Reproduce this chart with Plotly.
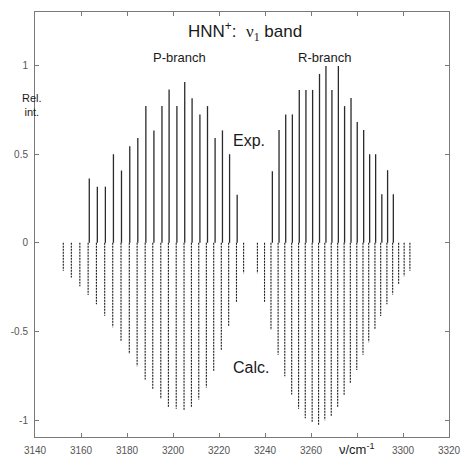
import plotly.graph_objects as go

# ---- data (wavenumber / cm^-1, relative intensity) ----
p_calc_wn = [3152.3, 3155.8, 3159.5, 3163.1, 3166.7, 3170.3, 3173.8, 3177.4, 3181.0, 3184.4,
             3187.9, 3191.2, 3194.7, 3198.0, 3201.4, 3204.8, 3208.0, 3211.2, 3214.5, 3217.7,
             3221.0, 3224.2, 3227.6, 3230.7]
p_calc_int = [-0.158, -0.195, -0.245, -0.294, -0.346, -0.411, -0.476, -0.552, -0.627, -0.695,
              -0.770, -0.826, -0.880, -0.924, -0.935, -0.943, -0.927, -0.883, -0.815, -0.727,
              -0.607, -0.473, -0.333, -0.171]
r_calc_wn = [3236.7, 3239.8, 3242.6, 3245.7, 3248.6, 3251.6, 3254.6, 3257.5, 3260.5, 3263.3,
             3266.0, 3268.8, 3271.6, 3274.4, 3277.1, 3279.9, 3282.6, 3285.1, 3287.8, 3290.3,
             3293.0, 3295.5, 3298.1, 3300.5, 3303.0]
r_calc_int = [-0.171, -0.335, -0.491, -0.631, -0.752, -0.854, -0.935, -0.988, -1.011, -1.025,
              -1.000, -0.974, -0.924, -0.858, -0.791, -0.716, -0.631, -0.560, -0.487, -0.413,
              -0.346, -0.291, -0.234, -0.189, -0.158]
p_exp_wn = [3163.6, 3167.1, 3170.6, 3174.1, 3177.6, 3181.2, 3184.7, 3188.2, 3191.7, 3195.2,
            3198.3, 3201.7, 3205.1, 3208.3, 3211.7, 3215.0, 3218.3, 3221.5, 3224.6, 3227.9]
p_exp_int = [0.362, 0.316, 0.316, 0.499, 0.407, 0.544, 0.590, 0.770, 0.633, 0.770,
             0.863, 0.770, 0.906, 0.814, 0.723, 0.770, 0.590, 0.633, 0.499, 0.271]
r_exp_wn = [3243.2, 3246.1, 3249.0, 3251.9, 3254.9, 3257.8, 3260.7, 3263.7, 3266.5, 3269.1,
            3271.9, 3274.6, 3277.4, 3280.1, 3282.9, 3285.5, 3288.1, 3290.8, 3293.3, 3295.8]
r_exp_int = [0.403, 0.635, 0.723, 0.723, 0.861, 0.861, 0.861, 0.951, 0.996, 0.861,
             0.996, 0.770, 0.816, 0.680, 0.635, 0.499, 0.499, 0.273, 0.409, 0.273]

x_ticks = [3140, 3160, 3180, 3200, 3220, 3240, 3260, 3300, 3320]
x_ticktext = ["3140", "3160", "3180", "3200", "3220", "3240", "3260", "3300", "3320"]
x_unlabelled_ticks = [3280]
y_ticks = [-1, -0.5, 0, 0.5, 1]
y_ticktext = ["-1", "-0.5", "0", "0.5", "1"]


def sticks(xs, ys):
    X, Y = [], []
    for x, y in zip(xs, ys):
        X += [x, x, None]
        Y += [0, y, None]
    return X, Y


fig = go.Figure()
cx, cy = sticks(p_calc_wn + r_calc_wn, p_calc_int + r_calc_int)
fig.add_trace(go.Scatter(x=cx, y=cy, mode="lines",
                         line=dict(color="#1a1a1a", width=1.1, dash="2px,1px"),
                         hoverinfo="skip", showlegend=False))
ex, ey = sticks(p_exp_wn + r_exp_wn, p_exp_int + r_exp_int)
fig.add_trace(go.Scatter(x=ex, y=ey, mode="lines",
                         line=dict(color="#2a2a2a", width=1.3),
                         hoverinfo="skip", showlegend=False))

axis_common = dict(showline=True, linecolor="#7a7a7a", linewidth=1, mirror="ticks",
                   ticks="inside", ticklen=4, tickcolor="#7a7a7a", showgrid=False,
                   zeroline=False, tickfont=dict(family="Liberation Sans, Arial", size=10,
                                                 color="#555555"))
fig.update_xaxes(range=[3140, 3320], tickvals=x_ticks, ticktext=x_ticktext,
                 ticklabelstandoff=4,
                 minor=dict(tickvals=x_unlabelled_ticks, ticks="inside", ticklen=4,
                            tickcolor="#7a7a7a", showgrid=False),
                 **axis_common)
fig.update_yaxes(range=[-1.094, 1.3], tickvals=y_ticks, ticktext=y_ticktext,
                 ticklabelstandoff=4, **axis_common)

txt = dict(family="Liberation Sans, Arial", color="#1a1a1a")
fig.add_annotation(x=3231.5, y=1.19, xref="x", yref="y", showarrow=False,
                   text="HNN<sup>+</sup>:  <span style='font-family:Liberation Serif'>ν<sub>1</sub></span> band",
                   font=dict(size=17, **txt))
fig.add_annotation(x=3202.7, y=1.046, xref="x", yref="y", showarrow=False,
                   text="P-branch", font=dict(size=13, **txt))
fig.add_annotation(x=3266.0, y=1.046, xref="x", yref="y", showarrow=False,
                   text="R-branch", font=dict(size=13, **txt))
fig.add_annotation(x=3233.0, y=0.579, xref="x", yref="y", showarrow=False,
                   text="Exp.", font=dict(size=16, **txt))
fig.add_annotation(x=3234.0, y=-0.701, xref="x", yref="y", showarrow=False,
                   text="Calc.", font=dict(size=16, **txt))
fig.add_annotation(x=-0.036, y=0.775, xref="paper", yref="y", showarrow=False,
                   text="Rel.<br>int.", font=dict(size=11, **txt), align="center")
fig.add_annotation(x=3280, y=0, xref="x", yref="paper", yanchor="top", yshift=-2,
                   showarrow=False, text="ν/cm<sup>-1</sup>", font=dict(size=13, **txt))

fig.update_layout(width=472, height=467, margin=dict(l=33, r=12, t=11, b=17),
                  plot_bgcolor="white", paper_bgcolor="white")
fig.write_html("out.html")
